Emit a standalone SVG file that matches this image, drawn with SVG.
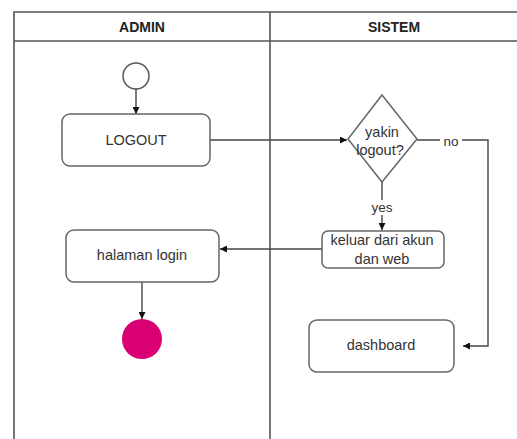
<svg xmlns="http://www.w3.org/2000/svg" width="517" height="439" viewBox="0 0 517 439">
  <style>
    .lane { fill: none; stroke: #555; stroke-width: 1.6; }
    .head { font-family: "Liberation Sans", Arial, sans-serif; font-size: 14px; font-weight: bold; fill: #222; text-anchor: middle; }
    .box { fill: #fff; stroke: #666; stroke-width: 1.5; }
    .lbl { font-family: "Liberation Sans", Arial, sans-serif; font-size: 14.5px; fill: #333; text-anchor: middle; }
    .edge { fill: none; stroke: #444; stroke-width: 1.4; }
    .elbl { font-family: "Liberation Sans", Arial, sans-serif; font-size: 13.5px; fill: #333; text-anchor: middle; }
  </style>
  <defs>
    <marker id="arrow" viewBox="0 0 10 10" refX="10" refY="5" markerWidth="7" markerHeight="7" markerUnits="userSpaceOnUse" orient="auto">
      <path d="M0,0 L10,5 L0,10 z" fill="#111"/>
    </marker>
  </defs>
  <rect width="517" height="439" fill="#fff"/>

  <!-- swimlane frame -->
  <g id="swimlanes">
    <path class="lane" d="M14,439 V12 H517"/>
    <line class="lane" x1="14" y1="41" x2="517" y2="41"/>
    <line class="lane" x1="270" y1="12" x2="270" y2="439"/>
    <text class="head" x="142" y="31.5">ADMIN</text>
    <text class="head" x="394" y="31.5">SISTEM</text>
  </g>

  <!-- connectors -->
  <g id="connectors">
    <line class="edge" x1="136" y1="89" x2="136" y2="114" marker-end="url(#arrow)"/>
    <line class="edge" x1="210" y1="140" x2="347" y2="140" marker-end="url(#arrow)"/>
    <path class="edge" d="M382,182 V230" marker-end="url(#arrow)"/>
    <rect x="368" y="200" width="28" height="15" fill="#fff"/>
    <text class="elbl" x="382" y="212">yes</text>
    <path class="edge" d="M417,140 H488 V346 H463" marker-end="url(#arrow)"/>
    <rect x="440" y="133" width="22" height="15" fill="#fff"/>
    <text class="elbl" x="451" y="146">no</text>
    <line class="edge" x1="322" y1="249" x2="220" y2="249" marker-end="url(#arrow)"/>
    <line class="edge" x1="142" y1="282" x2="142" y2="319" marker-end="url(#arrow)"/>
  </g>

  <g id="start">
    <circle cx="136" cy="76" r="13" fill="#fff" stroke="#555" stroke-width="1.5"/>
  </g>

  <g id="logout">
    <rect class="box" x="62" y="114" width="148" height="52" rx="8"/>
    <text class="lbl" x="136" y="144.5">LOGOUT</text>
  </g>

  <g id="decision">
    <polygon class="box" points="382,95 417,139 382,182 348,139"/>
    <text class="lbl" x="382" y="137">yakin</text>
    <text class="lbl" x="380" y="155">logout?</text>
  </g>

  <g id="keluar">
    <rect class="box" x="322" y="231" width="122" height="37" rx="6"/>
    <text class="lbl" x="382" y="245">keluar dari akun</text>
    <text class="lbl" x="382" y="264">dan web</text>
  </g>

  <g id="halaman-login">
    <rect class="box" x="66" y="230" width="153" height="52" rx="8"/>
    <text class="lbl" x="142" y="260">halaman login</text>
  </g>

  <g id="dashboard">
    <rect class="box" x="309" y="320" width="145" height="52" rx="8"/>
    <text class="lbl" x="381" y="349.5">dashboard</text>
  </g>

  <g id="end">
    <circle cx="142" cy="339" r="20" fill="#d80073"/>
  </g>
</svg>
